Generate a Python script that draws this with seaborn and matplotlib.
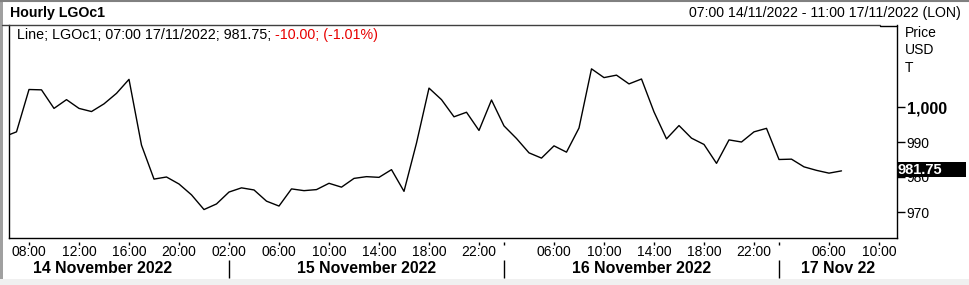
import numpy as np
import pandas as pd
import matplotlib
matplotlib.use("Agg")
import matplotlib.pyplot as plt
import matplotlib.transforms as mtrans
from matplotlib.patches import Rectangle
from matplotlib.lines import Line2D
import seaborn as sns

# ---------------- data ----------------
hours_14 = list(range(6, 23))
prices_14 = [991.5, 992.9, 1005.0, 1004.9, 999.6, 1002.1, 999.6, 998.7, 1000.9,
             1003.9, 1007.9, 989.1, 979.4, 980.0, 978.0, 974.9, 970.7]
hours_15 = list(range(1, 23))
prices_15 = [972.3, 975.7, 976.9, 976.3, 973.1, 971.7, 976.6, 976.1, 976.4, 978.2,
             977.1, 979.6, 980.1, 979.9, 982.1, 975.9, 989.7, 1005.4, 1002.1,
             997.2, 998.5, 993.3]
hours_16 = list(range(1, 23))
prices_16 = [1002.0, 994.6, 991.0, 986.9, 985.4, 988.9, 987.1, 994.0, 1010.9,
             1008.4, 1009.1, 1006.6, 1008.0, 998.6, 990.9, 994.7, 991.1, 989.3,
             983.9, 990.6, 990.0, 992.9]
hours_17 = list(range(1, 8))
prices_17 = [993.9, 985.0, 985.1, 982.9, 981.9, 981.1, 981.75]

tick_slots = [(14, 8), (14, 12), (14, 16), (14, 20),
              (15, 2), (15, 6), (15, 10), (15, 14), (15, 18), (15, 22),
              (16, 2), (16, 6), (16, 10), (16, 14), (16, 18), (16, 22),
              (17, 2), (17, 6), (17, 10)]
tick_labels = ["08:00", "12:00", "16:00", "20:00",
               "02:00", "06:00", "10:00", "14:00", "18:00", "22:00",
               "", "06:00", "10:00", "14:00", "18:00", "22:00",
               "", "06:00", "10:00"]
day_labels = ["14 November 2022", "15 November 2022", "16 November 2022", "17 Nov 22"]
y_ticks = [970, 980, 990, 1000]
y_tick_labels = ["970", "980", "990", "1,000"]
last_value = "981.75"
legend_black = "Line; LGOc1; 07:00 17/11/2022; 981.75; "
legend_red = "-10.00; (-1.01%)"
title = "Hourly LGOc1"
range_text = "07:00 14/11/2022 - 11:00 17/11/2022 (LON)"
unit_lines = ["Price", "USD", "T"]

# hourly trading slots (index axis, overnight gap removed)
slots = ([(14, h) for h in range(6, 23)] + [(15, h) for h in range(1, 23)] +
         [(16, h) for h in range(1, 23)] + [(17, h) for h in range(1, 12)])
slot_idx = {s: i for i, s in enumerate(slots)}

rows = []
for d, hrs, pr in [(14, hours_14, prices_14), (15, hours_15, prices_15),
                   (16, hours_16, prices_16), (17, hours_17, prices_17)]:
    for h, p in zip(hrs, pr):
        rows.append({"idx": slot_idx[(d, h)], "price": p})
df = pd.DataFrame(rows)

# ---------------- figure ----------------
sns.set_style("white")
plt.rcParams["font.family"] = ["Liberation Sans", "DejaVu Sans"]

W, H = 969, 285
fig = plt.figure(figsize=(W / 100, H / 100), dpi=100)
fig.patch.set_facecolor("white")

def fx(px):
    return px / W

def fy(py):
    return 1 - py / H

ax_l, ax_r, ax_t, ax_b = 9, 897, 25, 238
ax = fig.add_axes([fx(ax_l), fy(ax_b), fx(ax_r - ax_l), (ax_b - ax_t) / H])
ax.set_facecolor("white")

sns.lineplot(data=df, x="idx", y="price", ax=ax, color="black", linewidth=1.0)

def px_to_idx(px):
    # 08:00 14 Nov at px 29, 12.5 px per hourly slot
    return slot_idx[(14, 8)] + (px - 29) / 12.5

ax.set_xlim(px_to_idx(ax_l), px_to_idx(ax_r))
ax.set_ylim(1000 - (ax_b - 107) / 3.5, 1000 + (107 - ax_t) / 3.5)
ax.set_xlabel("")
ax.set_ylabel("")

for s in ["left", "bottom", "right"]:
    ax.spines[s].set_visible(True)
    ax.spines[s].set_color("black")
    ax.spines[s].set_linewidth(1.0)
ax.spines["top"].set_visible(False)

# y axis on right
ax.yaxis.tick_right()
ax.set_yticks(y_ticks)
ax.set_yticklabels(y_tick_labels)
ax.tick_params(axis="y", direction="out", length=6, width=1, pad=1,
               labelsize=10, colors="black", right=True, left=False)
for lab in ax.get_yticklabels():
    if lab.get_text() == "1,000":
        lab.set_fontweight("bold")
        lab.set_fontsize(11.5)

# x axis ticks (detached short marks)
xt = [slot_idx[s] for s in tick_slots]
ax.set_xticks(xt)
ax.set_xticklabels(tick_labels)
ax.tick_params(axis="x", direction="out", length=0, pad=10, labelsize=10,
               colors="black", bottom=True)
for lab in ax.get_xticklabels():
    lab.set_verticalalignment("center")
trans_x = mtrans.blended_transform_factory(ax.transData, ax.transAxes)
hgt = ax_b - ax_t
ax.vlines(xt, -3.5 / hgt, -6.5 / hgt, transform=trans_x, colors="black",
          linewidth=1, clip_on=False)

# day separators and labels
sep_slots = [(15, 2), (16, 2), (17, 2)]
sep_idx = [slot_idx[s] for s in sep_slots]
ax.vlines(sep_idx, -22 / hgt, -40 / hgt, transform=trans_x, colors="black",
          linewidth=1, clip_on=False)
xmin, xmax = ax.get_xlim()
day_centers = [px_to_idx(103),
               (sep_idx[0] + sep_idx[1]) / 2,
               (sep_idx[1] + sep_idx[2]) / 2,
               (sep_idx[2] + xmax) / 2]
for c, lab in zip(day_centers, day_labels):
    ax.text(c, -30.5 / hgt, lab, transform=trans_x, ha="center", va="center",
            fontsize=11.4, fontweight="bold", color="black", clip_on=False)

# last value box
fig.patches.append(Rectangle((fx(898), fy(177)), fx(68), 15 / H,
                             transform=fig.transFigure, facecolor="black",
                             edgecolor="none", zorder=5))
fig.text(fx(898), fy(169.5), last_value, ha="left", va="center", color="white",
         fontsize=10.5, fontweight="bold", zorder=6)

# unit labels
for i, t in enumerate(unit_lines):
    fig.text(fx(905), fy(33 + i * 17.5), t, ha="left", va="center",
             fontsize=10, color="black")

# header
fig.text(fx(10), fy(12.5), title, ha="left", va="center", fontsize=10.2,
         fontweight="bold", color="black")
fig.text(fx(961), fy(12.5), range_text, ha="right", va="center",
         fontsize=10.2, color="black")
fig.lines.append(Line2D([fx(2), fx(880)], [fy(24.5), fy(24.5)],
                        transform=fig.transFigure, color="#404040", linewidth=1))
fig.lines.append(Line2D([fx(880), fx(897)], [fy(25.5), fy(25.5)],
                        transform=fig.transFigure, color="black", linewidth=1))

# legend line (two colours)
t1 = fig.text(fx(17), fy(35), legend_black, ha="left", va="center",
              fontsize=10.3, color="black")
fig.canvas.draw()
bb = t1.get_window_extent(renderer=fig.canvas.get_renderer())
fig.text(bb.x1 / W, fy(35), legend_red, ha="left", va="center",
         fontsize=10.3, color="#e80000")

# outer frame
fig.patches.append(Rectangle((0, 0), fx(2.5), 1, transform=fig.transFigure,
                             facecolor="#a0a0a0", edgecolor="none"))
fig.patches.append(Rectangle((0, 0), 1, 6.5 / H, transform=fig.transFigure,
                             facecolor="#f0f0f0", edgecolor="none"))
fig.lines.append(Line2D([0, 1], [fy(0.8), fy(0.8)], transform=fig.transFigure,
                        color="#808080", linewidth=1.5))

fig.savefig("out.png", dpi=100, facecolor="white")
